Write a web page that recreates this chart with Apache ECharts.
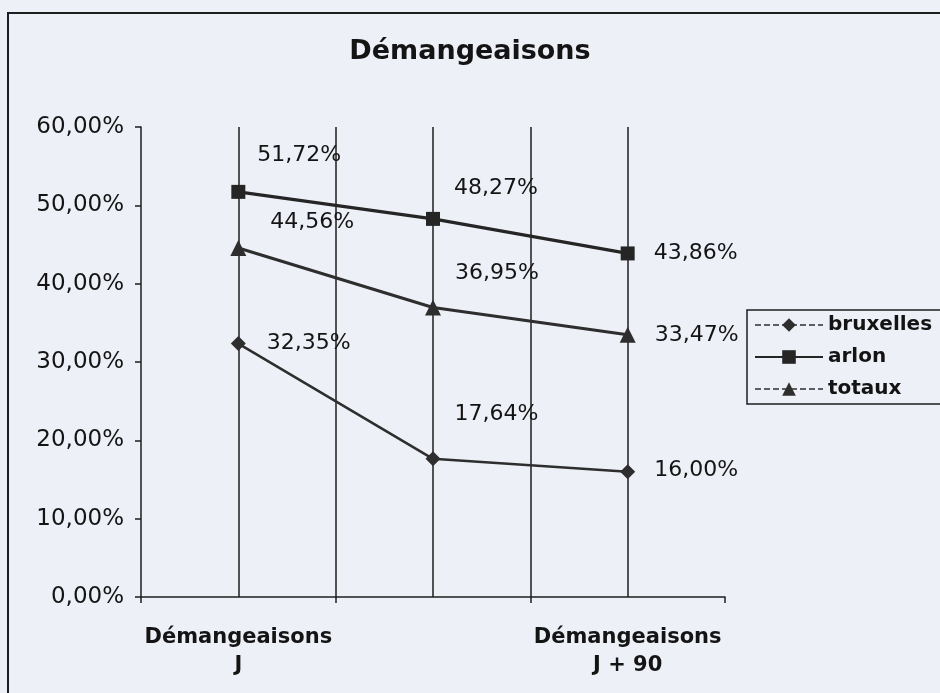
<!DOCTYPE html>
<html>
<head>
<meta charset="utf-8">
<title>Démangeaisons</title>
<script src="https://cdn.jsdelivr.net/npm/echarts@6/dist/echarts.min.js"></script>
<style>
  html, body { margin: 0; padding: 0; background: #eef0f7; }
  #chart { width: 940px; height: 693px; }
</style>
</head>
<body>
<div id="chart"></div>
<script>
// categories (middle label is not printed on the original chart)
const categories = ['Démangeaisons\nJ', '', 'Démangeaisons\nJ + 90'];
const yTicks = [0, 10, 20, 30, 40, 50, 60];

// values in %
const bruxelles = [32.35, 17.64, 16.00];
const arlon = [51.72, 48.27, 43.86];
const totaux = [44.56, 36.95, 33.47];

// label offsets (style only)
const offBruxelles = [[16, 0], [9, -45], [14, -1]];
const offArlon = [[7, -37], [9, -31], [14, 0]];
const offTotaux = [[19, -26], [9, -34], [14, 0]];

const ink = '#1e1e1e';
const fmt = v => v.toFixed(2).replace('.', ',') + '%';

function withLabels(values, offsets) {
    return values.map((v, i) => ({
        value: v,
        label: { offset: offsets[i] }
    }));
}

const labelStyle = {
    show: true,
    position: 'right',
    distance: 5,
    fontFamily: 'DejaVu Sans',
    fontSize: 22,
    color: '#141414',
    formatter: p => fmt(p.value)
};

const chart = echarts.init(document.getElementById('chart'));
const option = {
    backgroundColor: '#eef0f7',
    animation: false,
    title: {
        text: 'Démangeaisons',
        left: 'center',
        top: 33,
        textStyle: { fontFamily: 'DejaVu Sans', fontWeight: 'bold', fontSize: 27, color: '#141414' }
    },
    graphic: [{
        type: 'rect',
        shape: { x: 8, y: 13, width: 1000, height: 1000 },
        style: { fill: 'none', stroke: ink, lineWidth: 2 },
        silent: true
    }],
    legend: {
        orient: 'vertical',
        left: 747,
        top: 310,
        padding: [5, 20, 5, 7],
        itemGap: 12,
        itemWidth: 68,
        itemHeight: 17,
        borderColor: ink,
        borderWidth: 1.5,
        textStyle: { fontFamily: 'DejaVu Sans', fontWeight: 'bold', fontSize: 20, color: '#141414' },
        data: [
            { name: 'bruxelles', lineStyle: { type: 'dashed', width: 1.5 } },
            { name: 'arlon' },
            { name: 'totaux', lineStyle: { type: 'dashed', width: 1.5 } }
        ]
    },
    grid: { left: 141, right: 215, top: 127, bottom: 96 },
    xAxis: {
        type: 'category',
        data: categories,
        boundaryGap: true,
        axisLine: { lineStyle: { color: ink, width: 1.5 } },
        axisTick: { show: true, length: 6, lineStyle: { color: ink, width: 1.5 } },
        axisLabel: {
            interval: 0,
            margin: 27,
            fontFamily: 'DejaVu Sans',
            fontWeight: 'bold',
            fontSize: 21,
            lineHeight: 28,
            color: '#141414'
        },
        splitLine: {
            show: true,
            lineStyle: { color: ['transparent', ink, ink, 'transparent'], width: 1.5 }
        }
    },
    yAxis: {
        type: 'value',
        min: yTicks[0],
        max: yTicks[yTicks.length - 1],
        interval: 10,
        axisLine: { show: true, lineStyle: { color: ink, width: 1.5 } },
        axisTick: { show: true, length: 6, lineStyle: { color: ink, width: 1.5 } },
        splitLine: { show: false },
        axisLabel: {
            margin: 17,
            fontFamily: 'DejaVu Sans',
            fontSize: 23,
            color: '#141414',
            formatter: v => fmt(v)
        }
    },
    series: [
        {
            name: 'bruxelles',
            type: 'line',
            data: withLabels(bruxelles, offBruxelles),
            symbol: 'diamond',
            symbolSize: 15,
            color: '#2e2e2e',
            lineStyle: { color: '#2e2e2e', width: 2.5 },
            itemStyle: { color: '#2e2e2e' },
            label: labelStyle,
            z: 3
        },
        {
            name: 'arlon',
            type: 'line',
            data: withLabels(arlon, offArlon),
            symbol: 'rect',
            symbolSize: 14,
            color: '#252525',
            lineStyle: { color: '#252525', width: 3.2 },
            itemStyle: { color: '#252525' },
            label: labelStyle,
            z: 3,
            markLine: {
                silent: true,
                symbol: ['none', 'none'],
                label: { show: false },
                lineStyle: { color: ink, width: 1.5, type: 'solid' },
                z: 1,
                data: categories.map((c, i) => ({ xAxis: i }))
            }
        },
        {
            name: 'totaux',
            type: 'line',
            data: withLabels(totaux, offTotaux),
            symbol: 'triangle',
            symbolSize: 16,
            color: '#2e2e2e',
            lineStyle: { color: '#2e2e2e', width: 3 },
            itemStyle: { color: '#2e2e2e' },
            label: labelStyle,
            z: 3
        }
    ]
};
chart.setOption(option);
window.addEventListener('resize', () => chart.resize());
</script>
</body>
</html>
